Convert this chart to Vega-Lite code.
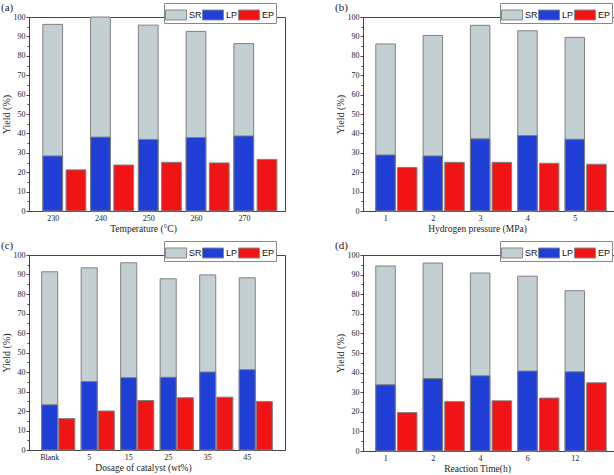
{
  "$schema": "https://vega.github.io/schema/vega-lite/v6.json",
  "padding": {"left": 0, "top": 1, "right": 2, "bottom": 0},
  "columns": 2,
  "spacing": {"row": 6, "column": 48},
  "resolve": {"scale": {"color": "independent", "xOffset": "independent"}, "legend": {"color": "independent"}},
  "config": {
    "view": {"stroke": "#444", "strokeWidth": 1},
    "axis": {"labelFont": "Liberation Serif", "titleFont": "Liberation Serif", "labelFontSize": 8, "titleFontSize": 10, "titleFontWeight": "normal", "domainColor": "#444", "tickColor": "#444", "labelColor": "#222", "titleColor": "#222", "grid": false},
    "axisX": {"ticks": false, "labelAngle": 0, "labelPadding": 3, "titlePadding": 1, "titleX": 114, "titleFontSize": 9.5},
    "title": {"font": "Liberation Serif", "fontSize": 11, "fontWeight": "normal", "anchor": "start", "frame": "bounds", "offset": -10, "color": "#222"},
    "legend": {"labelFont": "Liberation Sans", "labelFontSize": 9, "labelColor": "#111", "strokeColor": "#888", "fillColor": "#fff", "padding": 1, "columnPadding": 1, "labelOffset": 2, "symbolStrokeColor": "#888", "symbolStrokeWidth": 1, "symbolOpacity": 1, "symbolType": "M-1,-0.476H1V0.476H-1Z", "symbolSize": 441},
    "bar": {"stroke": "#808080", "strokeWidth": 1}
  },
  "concat": [
    {
      "title": "(a)",
      "width": 256, "height": 194,
      "data": {"values": [
        {"cat": "230", "Total": 96.2, "LP": 28.4, "EP": 21.2},
        {"cat": "240", "Total": 100, "LP": 38.1, "EP": 23.7},
        {"cat": "250", "Total": 95.8, "LP": 36.9, "EP": 25.1},
        {"cat": "260", "Total": 92.6, "LP": 37.9, "EP": 24.8},
        {"cat": "270", "Total": 86.3, "LP": 38.7, "EP": 26.6}
      ]},
      "encoding": {"x": {"field": "cat", "type": "nominal", "sort": null, "scale": {"paddingInner": 0.1, "paddingOuter": 0.23, "align": 0.63}, "axis": {"title": "Temperature (°C)", "labelOffset": -11}}},
      "layer": [
        {"mark": "bar", "encoding": {
          "xOffset": {"datum": "S", "scale": {"domain": ["S", "E"], "paddingInner": 0.15}},
          "y": {"field": "Total", "type": "quantitative", "scale": {"domain": [0, 100], "nice": false}, "axis": {"orient": "left", "title": "Yield (%)", "values": [0,10,20,30,40,50,60,70,80,90,100], "tickSize": 3, "labelPadding": 1, "titlePadding": 2}},
          "color": {"datum": "SR", "type": "nominal", "scale": {"domain": ["SR", "LP", "EP"], "range": ["#c3d0d3", "#1f3fd6", "#f01414"]}, "legend": {"orient": "none", "legendX": 135, "legendY": -14, "direction": "horizontal", "title": null, "columnPadding": -4, "padding": 1}}
        }},
        {"mark": "bar", "encoding": {
          "xOffset": {"datum": "S"},
          "y": {"field": "LP", "type": "quantitative", "axis": null},
          "color": {"datum": "LP", "type": "nominal"}
        }},
        {"mark": "bar", "encoding": {
          "xOffset": {"datum": "E"},
          "y": {"field": "EP", "type": "quantitative", "axis": {"orient": "left", "title": null, "values": [5,15,25,35,45,55,65,75,85,95], "tickSize": 2, "labels": false, "domain": false}},
          "color": {"datum": "EP", "type": "nominal"}
        }}
      ],
      "resolve": {"axis": {"y": "independent"}}
    },
    {
      "title": "(b)",
      "width": 256, "height": 194,
      "data": {"values": [
        {"cat": "1", "Total": 86.1, "LP": 28.9, "EP": 22.4},
        {"cat": "2", "Total": 90.5, "LP": 28.4, "EP": 25.1},
        {"cat": "3", "Total": 95.7, "LP": 37.2, "EP": 25.1},
        {"cat": "4", "Total": 92.9, "LP": 38.9, "EP": 24.6},
        {"cat": "5", "Total": 89.5, "LP": 37.0, "EP": 24.1}
      ]},
      "encoding": {"x": {"field": "cat", "type": "nominal", "sort": null, "scale": {"paddingInner": 0.13, "paddingOuter": 0.27}, "axis": {"title": "Hydrogen pressure (MPa)", "labelOffset": -10.5}}},
      "layer": [
        {"mark": "bar", "encoding": {
          "xOffset": {"datum": "S", "scale": {"domain": ["S", "E"], "paddingInner": 0.1}},
          "y": {"field": "Total", "type": "quantitative", "scale": {"domain": [0, 100], "nice": false}, "axis": {"orient": "left", "title": "Yield (%)", "values": [0,10,20,30,40,50,60,70,80,90,100], "tickSize": 3, "labelPadding": 1, "titlePadding": 2}},
          "color": {"datum": "SR", "type": "nominal", "scale": {"domain": ["SR", "LP", "EP"], "range": ["#c3d0d3", "#1f3fd6", "#f01414"]}, "legend": {"orient": "none", "legendX": 137, "legendY": -14, "direction": "horizontal", "title": null, "columnPadding": -4, "padding": 1}}
        }},
        {"mark": "bar", "encoding": {
          "xOffset": {"datum": "S"},
          "y": {"field": "LP", "type": "quantitative", "axis": null},
          "color": {"datum": "LP", "type": "nominal"}
        }},
        {"mark": "bar", "encoding": {
          "xOffset": {"datum": "E"},
          "y": {"field": "EP", "type": "quantitative", "axis": {"orient": "left", "title": null, "values": [5,15,25,35,45,55,65,75,85,95], "tickSize": 2, "labels": false, "domain": false}},
          "color": {"datum": "EP", "type": "nominal"}
        }}
      ],
      "resolve": {"axis": {"y": "independent"}}
    },
    {
      "title": "(c)",
      "width": 256, "height": 195,
      "data": {"values": [
        {"cat": "Blank", "Total": 91.4, "LP": 23.2, "EP": 16.1},
        {"cat": "5", "Total": 93.4, "LP": 35.1, "EP": 20.0},
        {"cat": "15", "Total": 96.0, "LP": 37.1, "EP": 25.4},
        {"cat": "25", "Total": 87.8, "LP": 37.3, "EP": 26.8},
        {"cat": "35", "Total": 89.8, "LP": 40.0, "EP": 27.1},
        {"cat": "45", "Total": 88.3, "LP": 41.2, "EP": 24.9}
      ]},
      "encoding": {"x": {"field": "cat", "type": "nominal", "sort": null, "scale": {"paddingInner": 0.16, "paddingOuter": 0.32}, "axis": {"title": "Dosage of catalyst (wt%)", "labelOffset": -8.5}}},
      "layer": [
        {"mark": "bar", "encoding": {
          "xOffset": {"datum": "S", "scale": {"domain": ["S", "E"], "paddingInner": 0.06}},
          "y": {"field": "Total", "type": "quantitative", "scale": {"domain": [0, 100], "nice": false}, "axis": {"orient": "left", "title": "Yield (%)", "values": [0,10,20,30,40,50,60,70,80,90,100], "tickSize": 3, "labelPadding": 1, "titlePadding": 2}},
          "color": {"datum": "SR", "type": "nominal", "scale": {"domain": ["SR", "LP", "EP"], "range": ["#c3d0d3", "#1f3fd6", "#f01414"]}, "legend": {"orient": "none", "legendX": 135, "legendY": -14, "direction": "horizontal", "title": null, "columnPadding": -4, "padding": 1}}
        }},
        {"mark": "bar", "encoding": {
          "xOffset": {"datum": "S"},
          "y": {"field": "LP", "type": "quantitative", "axis": null},
          "color": {"datum": "LP", "type": "nominal"}
        }},
        {"mark": "bar", "encoding": {
          "xOffset": {"datum": "E"},
          "y": {"field": "EP", "type": "quantitative", "axis": {"orient": "left", "title": null, "values": [5,15,25,35,45,55,65,75,85,95], "tickSize": 2, "labels": false, "domain": false}},
          "color": {"datum": "EP", "type": "nominal"}
        }}
      ],
      "resolve": {"axis": {"y": "independent"}}
    },
    {
      "title": "(d)",
      "width": 256, "height": 196,
      "data": {"values": [
        {"cat": "1", "Total": 94.4, "LP": 33.8, "EP": 19.6},
        {"cat": "2", "Total": 95.9, "LP": 37.0, "EP": 25.2},
        {"cat": "4", "Total": 90.8, "LP": 38.4, "EP": 25.6},
        {"cat": "6", "Total": 89.2, "LP": 40.8, "EP": 27.0},
        {"cat": "12", "Total": 81.8, "LP": 40.4, "EP": 34.8}
      ]},
      "encoding": {"x": {"field": "cat", "type": "nominal", "sort": null, "scale": {"paddingInner": 0.13, "paddingOuter": 0.27}, "axis": {"title": "Reaction Time(h)", "labelOffset": -10.5}}},
      "layer": [
        {"mark": "bar", "encoding": {
          "xOffset": {"datum": "S", "scale": {"domain": ["S", "E"], "paddingInner": 0.1}},
          "y": {"field": "Total", "type": "quantitative", "scale": {"domain": [0, 100], "nice": false}, "axis": {"orient": "left", "title": "Yield (%)", "values": [0,10,20,30,40,50,60,70,80,90,100], "tickSize": 3, "labelPadding": 1, "titlePadding": 2}},
          "color": {"datum": "SR", "type": "nominal", "scale": {"domain": ["SR", "LP", "EP"], "range": ["#c3d0d3", "#1f3fd6", "#f01414"]}, "legend": {"orient": "none", "legendX": 137, "legendY": -14, "direction": "horizontal", "title": null, "columnPadding": -4, "padding": 1}}
        }},
        {"mark": "bar", "encoding": {
          "xOffset": {"datum": "S"},
          "y": {"field": "LP", "type": "quantitative", "axis": null},
          "color": {"datum": "LP", "type": "nominal"}
        }},
        {"mark": "bar", "encoding": {
          "xOffset": {"datum": "E"},
          "y": {"field": "EP", "type": "quantitative", "axis": {"orient": "left", "title": null, "values": [5,15,25,35,45,55,65,75,85,95], "tickSize": 2, "labels": false, "domain": false}},
          "color": {"datum": "EP", "type": "nominal"}
        }}
      ],
      "resolve": {"axis": {"y": "independent"}}
    }
  ]
}
